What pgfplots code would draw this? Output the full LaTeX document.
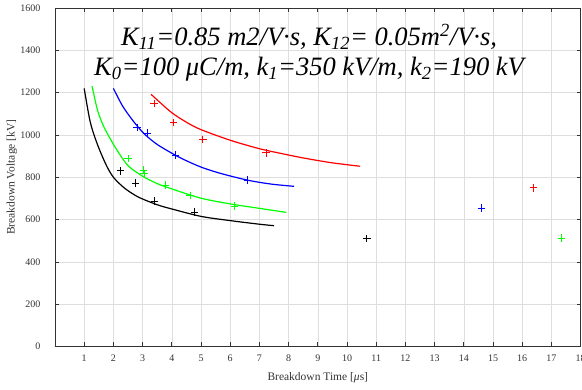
\documentclass[border=0pt]{standalone}
\usepackage{fontspec}
\setmainfont{Liberation Serif}
\usepackage{pgfplots}
\pgfplotsset{compat=1.18}
\definecolor{axgray}{gray}{0.2}
\definecolor{pgreen}{rgb}{0,1,0}
\begin{document}
\begin{tikzpicture}
\begin{axis}[name=ax, scale only axis, width=525.6pt, height=338.5pt,
  xmin=0, xmax=18, ymin=0, ymax=1600,
  xtick={1,...,18}, ytick={0,200,...,1600},
  grid=major, major grid style={black!13, line width=0.5pt},
  axis line style={axgray, line width=0.8pt}, tick style={axgray, line width=0.7pt},
  tick align=inside, major tick length=4pt,
  /pgf/number format/assume math mode=true,
  /pgf/number format/1000 sep={},
  tick label style={font=\fontsize{10}{11}\selectfont, text=axgray},
  xticklabel style={yshift=-5pt},
  yticklabel style={xshift=-11pt},
  xlabel={Breakdown Time [\textit{μ}s]}, ylabel={Breakdown Voltage [kV]},
  label style={font=\fontsize{11.5}{13}\selectfont, text=axgray},
  xlabel style={at={(axis description cs:0.5,-0.093)}, anchor=center},
  ylabel style={at={(axis description cs:-0.082,0.5)}, anchor=center},
  every axis plot/.append style={line width=1.2pt},
]
% curves
\addplot[black, smooth, no marks] coordinates {(1.0,1220) (1.2,1065) (1.4,975) (1.6,905) (1.8,845) (2.0,800) (2.3,758) (2.6,727) (2.92,702) (3.5,670) (4.0,650) (5.0,615) (6.0,595) (7.0,578) (7.5,571)};
\addplot[pgreen, smooth, no marks] coordinates {(1.27,1231) (1.45,1120) (1.65,1045) (1.88,985) (2.11,931) (2.5,855) (3.0,805) (3.5,770) (4.0,745) (5.0,701) (6.0,674) (7.0,653) (7.92,634)};
\addplot[blue, smooth, no marks] coordinates {(2.0,1220) (2.3,1140) (2.6,1080) (2.83,1040) (3.08,1002) (3.5,955) (4.11,905) (4.5,878) (5.0,848) (5.5,825) (6.0,806) (6.57,787) (7.0,776) (7.5,766) (8.19,757)};
\addplot[red, smooth, no marks] coordinates {(3.29,1192) (3.6,1153) (4.0,1105) (4.5,1060) (5.0,1025) (6.0,975) (7.0,935) (8.0,905) (8.63,888) (9.5,868) (10.45,852)};
% measured points
\addplot[black, only marks, mark=+, mark size=3.8pt, line width=0.8pt] coordinates {(2.24,830) (2.76,773) (3.41,688) (4.78,636) (10.68,510)};
\addplot[pgreen, only marks, mark=+, mark size=3.8pt, line width=0.8pt] coordinates {(2.50,888) (3.03,834) (3.05,817) (3.77,763) (4.63,713) (6.15,664) (17.34,513)};
\addplot[blue, only marks, mark=+, mark size=3.8pt, line width=0.8pt] coordinates {(2.81,1035) (3.15,1008) (4.12,904) (6.59,786) (14.6,655)};
\addplot[red, only marks, mark=+, mark size=3.8pt, line width=0.8pt] coordinates {(3.40,1149) (4.06,1058) (5.06,979) (7.23,916) (16.39,750)};
\node[anchor=base, font=\fontsize{26.5}{30}\selectfont\itshape] at (axis cs:8.70,1421) {K\textsubscript{11}=0.85 m2/V·s, K\textsubscript{12}= 0.05m\textsuperscript{2}/V·s,};
\node[anchor=base, font=\fontsize{26.5}{30}\selectfont\itshape] at (axis cs:8.70,1279) {K\textsubscript{0}=100 μC/m, k\textsubscript{1}=350 kV/m, k\textsubscript{2}=190 kV};
\end{axis}
\pgfresetboundingbox
\path (ax.south west) ++(-55pt,-43.5pt) rectangle ([shift={(1.4pt,8pt)}]ax.north east);
\end{tikzpicture}
\end{document}
